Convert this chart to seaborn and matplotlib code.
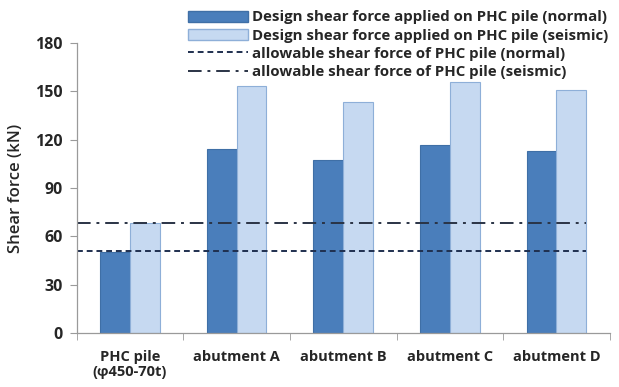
import pandas as pd
import matplotlib
matplotlib.use("Agg")
import matplotlib.pyplot as plt
import seaborn as sns
from matplotlib.lines import Line2D
from matplotlib.patches import Patch

# data
categories = ["PHC pile\n(\u03c6450-70t)", "abutment A", "abutment B", "abutment C", "abutment D"]
normal_force = [50, 114.5, 107.5, 116.5, 113]
seismic_force = [68, 153, 143.5, 155.5, 151]
allow_normal = 51
allow_seismic = 68
series_names = ["Design shear force applied on PHC pile (normal)",
                "Design shear force applied on PHC pile (seismic)"]
line_names = ["allowable shear force of PHC pile (normal)",
              "allowable shear force of PHC pile (seismic)"]

sns.set_style("white")
plt.rcParams["font.family"] = ["Open Sans", "DejaVu Sans"]
plt.rcParams["font.weight"] = "bold"

df = pd.DataFrame({
    "category": categories * 2,
    "force": normal_force + seismic_force,
    "series": [series_names[0]] * 5 + [series_names[1]] * 5,
})

dark = "#4A7EBB"
light = "#C6D9F1"
dark_edge = "#3F6FA6"
light_edge = "#8EAFD8"
dash_normal = (0, (3, 2))
dash_seismic = (0, (7, 3, 1.5, 3))

fig = plt.figure(figsize=(6.19, 3.87), dpi=100)
ax = fig.add_axes([0.124, 0.1395, 0.861, 0.7495])

sns.barplot(data=df, x="category", y="force", hue="series",
            palette=[dark, light], saturation=1, width=0.56, gap=0,
            ax=ax, legend=False)
for i, bar in enumerate(ax.patches):
    bar.set_edgecolor(dark_edge if i < 5 else light_edge)
    bar.set_linewidth(0.8)

# allowable lines end at the last bar
ax.hlines(allow_normal, -0.5, 4.28, colors="#1F2F4F", linestyles=dash_normal, lw=1.4)
ax.hlines(allow_seismic, -0.5, 4.28, colors="#2A3345", linestyles=dash_seismic, lw=1.4)

ax.set_xlim(-0.5, 4.5)
ax.set_ylim(0, 180)
ax.set_yticks(range(0, 181, 30))
ax.set_xlabel("")
ax.set_ylabel("Shear force (kN)", fontsize=12, fontweight="semibold", labelpad=8)

for s in ["top", "right"]:
    ax.spines[s].set_visible(False)
for s in ["left", "bottom"]:
    ax.spines[s].set_color("#9A9A9A")
    ax.spines[s].set_linewidth(0.9)

ax.tick_params(axis="y", which="major", left=True, length=5, color="#9A9A9A",
               labelsize=11.5, pad=5)
ax.tick_params(axis="x", which="major", bottom=False, labelsize=10.5, pad=9)
ax.set_xticks([x - 0.5 for x in range(6)], minor=True)
ax.tick_params(axis="x", which="minor", bottom=True, length=5, color="#9A9A9A")
for lab in ax.get_xticklabels() + ax.get_yticklabels():
    lab.set_fontweight("bold")
for lab in ax.get_xticklabels():
    lab.set_linespacing(1.05)

handles = [
    Patch(facecolor=dark, edgecolor=dark_edge),
    Patch(facecolor=light, edgecolor=light_edge),
    Line2D([], [], color="#1F2F4F", linestyle=dash_normal, lw=1.4),
    Line2D([], [], color="#2A3345", linestyle=dash_seismic, lw=1.4),
]
fig.legend(handles, series_names + line_names, loc="upper right",
           bbox_to_anchor=(1.0, 1.0), frameon=False,
           prop={"weight": "bold", "size": 10.8}, handlelength=4.0, handleheight=0.8,
           handletextpad=0.3, labelspacing=0.28, borderaxespad=0.3)

fig.savefig("out.png", dpi=100)
